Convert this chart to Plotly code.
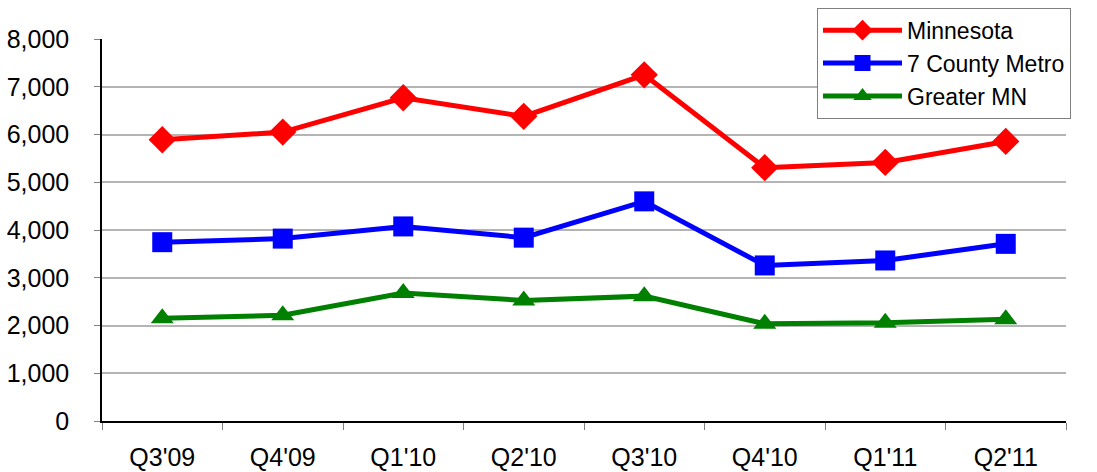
import plotly.graph_objects as go

quarters = ["Q3'09", "Q4'09", "Q1'10", "Q2'10", "Q3'10", "Q4'10", "Q1'11", "Q2'11"]
minnesota = [5890, 6050, 6770, 6380, 7250, 5305, 5415, 5855]
metro = [3745, 3820, 4075, 3840, 4600, 3258, 3362, 3710]
greater = [2150, 2215, 2680, 2525, 2615, 2036, 2055, 2130]
y_ticks = [0, 1000, 2000, 3000, 4000, 5000, 6000, 7000, 8000]
y_labels = ["0", "1,000", "2,000", "3,000", "4,000", "5,000", "6,000", "7,000", "8,000"]

FONT = "Liberation Sans, Arial, sans-serif"

fig = go.Figure()
fig.add_trace(go.Scatter(x=quarters, y=minnesota, name="Minnesota", mode="lines+markers",
                         line=dict(color="#ff0000", width=5),
                         marker=dict(symbol="diamond", size=21, color="#ff0000")))
fig.add_trace(go.Scatter(x=quarters, y=metro, name="7 County Metro", mode="lines+markers",
                         line=dict(color="#0000ff", width=5),
                         marker=dict(symbol="square", size=20, color="#0000ff")))
fig.add_trace(go.Scatter(x=quarters, y=greater, name="Greater MN", mode="lines+markers",
                         line=dict(color="#008000", width=5),
                         marker=dict(symbol="triangle-up", size=20, color="#008000")))

fig.update_layout(
    width=1097, height=472,
    margin=dict(l=102, r=31, t=39, b=51, pad=0, autoexpand=False),
    paper_bgcolor="white", plot_bgcolor="white",
    font=dict(family=FONT, size=24, color="black"),
    showlegend=True,
    legend=dict(x=0.7417, y=1.082, xanchor="left", yanchor="top",
                bordercolor="#808080", borderwidth=1, bgcolor="white",
                font=dict(family=FONT, size=23, color="black"),
                itemwidth=79, tracegroupgap=0),
    xaxis=dict(type="category", showgrid=False, showline=True, linecolor="black", linewidth=1.5,
               ticks="outside", tickson="boundaries", ticklen=7, tickcolor="#808080",
               tickfont=dict(family=FONT, size=25), ticklabelstandoff=13,
               range=[-0.5, 7.5], zeroline=False, automargin=False),
    yaxis=dict(range=[0, 8000], tickvals=y_ticks, ticktext=y_labels,
               showgrid=True, gridcolor="#b4b4b4", gridwidth=1.5,
               showline=True, linecolor="black", linewidth=1.5,
               ticks="outside", ticklen=6, tickcolor="#808080",
               tickfont=dict(family=FONT, size=25), ticklabelstandoff=20,
               zeroline=False, automargin=False),
)

fig.write_html("out.html")
